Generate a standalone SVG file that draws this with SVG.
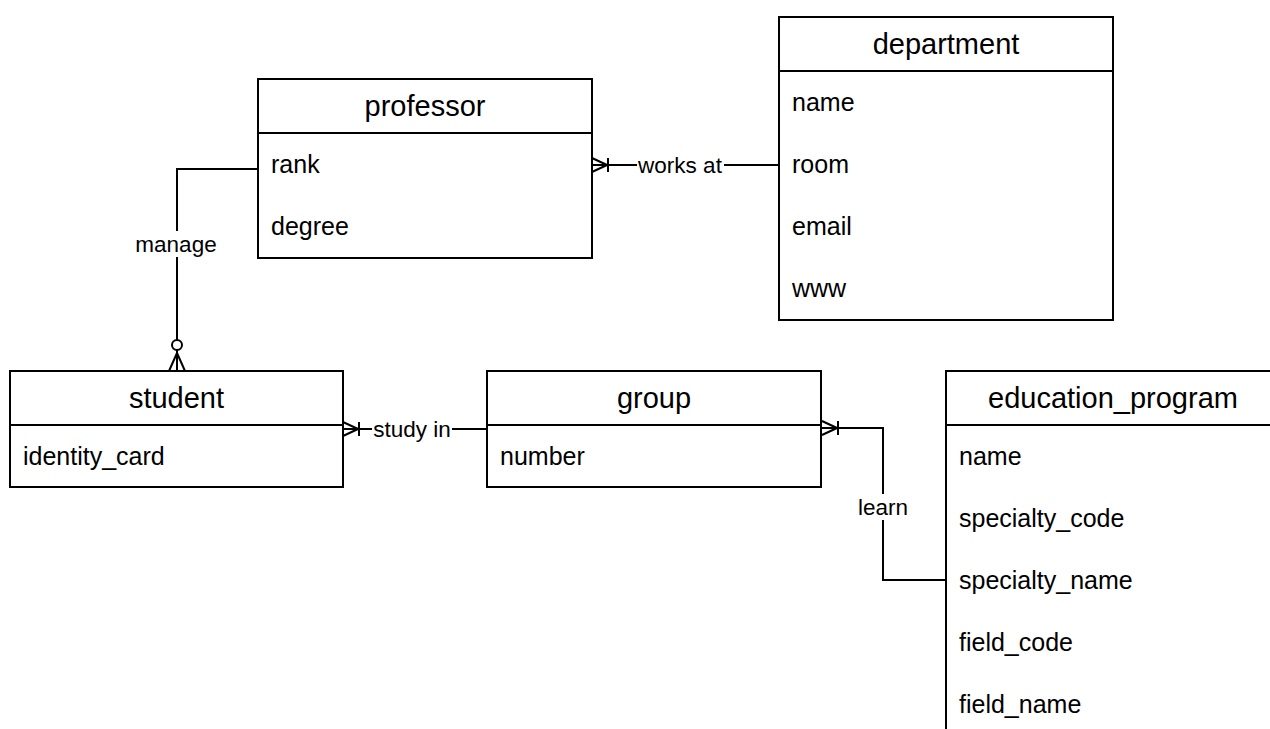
<svg xmlns="http://www.w3.org/2000/svg" width="1270" height="729" viewBox="0 0 1270 729">
<style>
  .box { fill: #ffffff; stroke: #000000; stroke-width: 2; }
  .sep { stroke: #000000; stroke-width: 2; }
  .title { font-family: "Liberation Sans", Arial, sans-serif; font-size: 29px; fill: #000000; text-anchor: middle; dominant-baseline: central; }
  .attr { font-family: "Liberation Sans", Arial, sans-serif; font-size: 25px; fill: #000000; dominant-baseline: central; }
  .edge { fill: none; stroke: #000000; stroke-width: 2; }
  .lbl { font-family: "Liberation Sans", Arial, sans-serif; font-size: 22.5px; fill: #000000; text-anchor: middle; dominant-baseline: central; }
  .lblbg { fill: #ffffff; stroke: none; }
</style>
<defs>
  <path id="oneToMany" d="M0,-7 L15,0 M0,7 L15,0 M0,0 L16,0 M16,-7 L16,7" fill="none" stroke="#000" stroke-width="2"/>
  <g id="zeroToMany">
    <path d="M-8,0 L0,-18 L8,0 M0,0 L0,-31" fill="none" stroke="#000" stroke-width="2"/>
    <circle cx="0" cy="-26" r="5" fill="#fff" stroke="#000" stroke-width="2"/>
  </g>
</defs>

<g id="connectors">
  <g id="edge-works-at">
    <path class="edge" d="M592,165 L779,165"/>
    <use href="#oneToMany" transform="translate(592,165)"/>
    <rect class="lblbg" x="637" y="152" width="87" height="26"/>
    <text class="lbl" x="680" y="165">works at</text>
  </g>
  <g id="edge-manage">
    <path class="edge" d="M258,169 L177,169 L177,340"/>
    <use href="#zeroToMany" transform="translate(177,371)"/>
    <rect class="lblbg" x="134" y="231" width="84" height="26"/>
    <text class="lbl" x="176" y="244">manage</text>
  </g>
  <g id="edge-study-in">
    <path class="edge" d="M343,429 L487,429"/>
    <use href="#oneToMany" transform="translate(343,429)"/>
    <rect class="lblbg" x="372" y="416" width="80" height="26"/>
    <text class="lbl" x="412" y="429">study in</text>
  </g>
  <g id="edge-learn">
    <path class="edge" d="M822,428 L883,428 L883,580 L946,580"/>
    <use href="#oneToMany" transform="translate(822,428)"/>
    <rect class="lblbg" x="857" y="494" width="52" height="26"/>
    <text class="lbl" x="883" y="507">learn</text>
  </g>
</g>

<g id="professor">
  <rect class="box" x="258" y="79" width="334" height="179"/>
  <line class="sep" x1="258" y1="133" x2="592" y2="133"/>
  <text class="title" x="425" y="106">professor</text>
  <text class="attr" x="271" y="164">rank</text>
  <text class="attr" x="271" y="226">degree</text>
</g>

<g id="department">
  <rect class="box" x="779" y="17" width="334" height="303"/>
  <line class="sep" x1="779" y1="71" x2="1113" y2="71"/>
  <text class="title" x="946" y="44">department</text>
  <text class="attr" x="792" y="102">name</text>
  <text class="attr" x="792" y="164">room</text>
  <text class="attr" x="792" y="226">email</text>
  <text class="attr" x="792" y="288">www</text>
</g>

<g id="student">
  <rect class="box" x="10" y="371" width="333" height="116"/>
  <line class="sep" x1="10" y1="425" x2="343" y2="425"/>
  <text class="title" x="176.5" y="398">student</text>
  <text class="attr" x="23" y="456">identity_card</text>
</g>

<g id="group">
  <rect class="box" x="487" y="371" width="334" height="116"/>
  <line class="sep" x1="487" y1="425" x2="821" y2="425"/>
  <text class="title" x="654" y="398">group</text>
  <text class="attr" x="500" y="456">number</text>
</g>

<g id="education_program">
  <rect class="box" x="946" y="371" width="334" height="366"/>
  <line class="sep" x1="946" y1="425" x2="1280" y2="425"/>
  <text class="title" x="1113" y="398">education_program</text>
  <text class="attr" x="959" y="456">name</text>
  <text class="attr" x="959" y="518">specialty_code</text>
  <text class="attr" x="959" y="580">specialty_name</text>
  <text class="attr" x="959" y="642">field_code</text>
  <text class="attr" x="959" y="704">field_name</text>
</g>
</svg>
